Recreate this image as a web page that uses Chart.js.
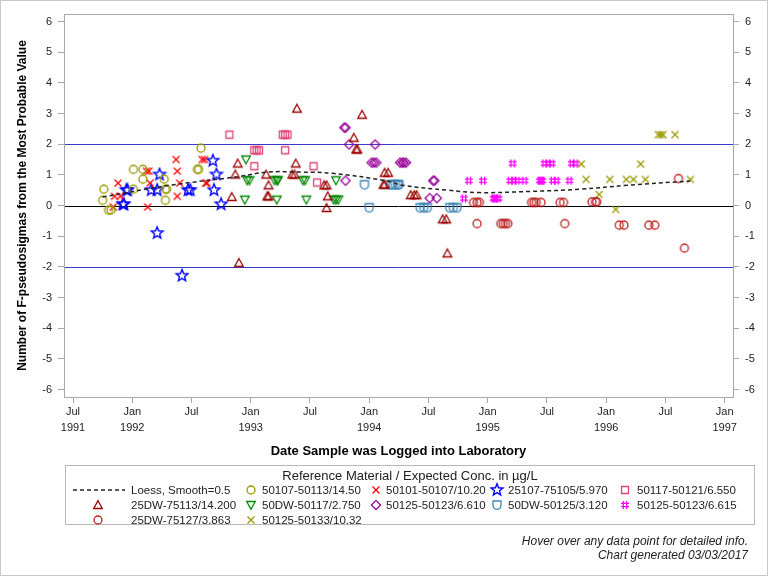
<!DOCTYPE html>
<html>
<head>
<meta charset="utf-8">
<title>Reference material control chart</title>
<script src="https://cdn.jsdelivr.net/npm/chart.js@4.4.1/dist/chart.umd.min.js"></script>
<style>
  html, body { margin: 0; padding: 0; background: #fff; }
  body { width: 768px; height: 576px; position: relative; overflow: hidden; font-family: "Liberation Sans", Arial, sans-serif; }
  #chart { position: absolute; left: 0; top: 0; }
  #frame { position: absolute; left: 0; top: 0; width: 766px; height: 574px; border: 1px solid #c8c8c8; pointer-events: none; }
  #legend { position: absolute; left: 65px; top: 465px; width: 690px; height: 60px; border: 1px solid #b8b8b8; box-sizing: border-box; }
  #legend .ttl { position: absolute; left: 0; right: 0; top: 2px; text-align: center; font-size: 13px; color: #222; }
  .item { position: absolute; font-size: 11.5px; color: #222; white-space: nowrap; line-height: 14px; }
  .sym { position: absolute; }
  .foot { position: absolute; right: 20px; font-size: 12px; font-style: italic; color: #222; }
</style>
</head>
<body>
<canvas id="chart" width="768" height="576"></canvas>
<div id="legend"><div class="ttl">Reference Material / Expected Conc. in µg/L</div></div>
<div class="foot" style="top:534px">Hover over any data point for detailed info.</div>
<div class="foot" style="top:548px">Chart generated 03/03/2017</div>
<div id="frame"></div>
<script>
// Axis ticks (x in decimal years)
const xTickValues = [1991.5, 1992, 1992.5, 1993, 1993.5, 1994, 1994.5, 1995, 1995.5, 1996, 1996.5, 1997];
const xTickLabels = [['Jul','1991'], ['Jan','1992'], 'Jul', ['Jan','1993'], 'Jul', ['Jan','1994'], 'Jul', ['Jan','1995'], 'Jul', ['Jan','1996'], 'Jul', ['Jan','1997']];
const yTickValues = [-6, -5, -4, -3, -2, -1, 0, 1, 2, 3, 4, 5, 6];
const refLevels = [2, 0, -2];

// Data: [date (decimal year), F-pseudosigmas]
const loess = [[1991.75,0.28],[1992.32,0.66],[1992.91,0.95],[1993.14,1.09],[1993.42,1.09],[1993.69,1.05],[1994.15,0.80],[1994.28,0.66],[1994.66,0.50],[1994.93,0.42],[1995.36,0.46],[1995.78,0.53],[1996.18,0.66],[1996.71,0.80]];

const m50107 = [[1991.76,0.53],[1991.75,0.17],[1991.80,-0.15],[1991.82,-0.15],[1992.01,1.18],[1992.09,1.18],[1992.09,0.86],[1992.01,0.53],[1992.27,0.86],[1992.28,0.53],[1992.29,0.53],[1992.28,0.17],[1992.55,1.18],[1992.56,1.18],[1992.58,1.87]];

const m50101 = [[1991.88,0.73],[1991.85,0.30],[1991.90,0.30],[1991.84,-0.05],[1992.12,1.12],[1992.14,1.12],[1992.15,0.73],[1992.13,-0.05],[1992.37,1.50],[1992.38,1.12],[1992.40,0.73],[1992.38,0.30],[1992.59,1.50],[1992.61,1.50],[1992.62,0.73],[1992.63,0.73]];

const m25107 = [[1991.95,0.50],[1991.96,0.50],[1991.92,0.04],[1991.93,0.04],[1992.23,1.01],[1992.16,0.50],[1992.21,0.50],[1992.21,-0.90],[1992.47,0.50],[1992.49,0.50],[1992.68,1.46],[1992.71,1.01],[1992.69,0.50],[1992.75,0.04],[1992.42,-2.29]];

const m50117 = [[1992.82,2.31],[1993.27,2.31],[1993.29,2.31],[1993.31,2.31],[1993.03,1.80],[1993.05,1.80],[1993.07,1.80],[1993.29,1.80],[1993.03,1.28],[1993.53,1.28],[1993.56,0.75]];

const m75113 = [[1992.89,1.37],[1992.87,1.01],[1992.84,0.28],[1992.90,-1.87],[1993.39,3.16],[1993.94,2.96],[1993.87,2.21],[1993.89,1.83],[1993.90,1.83],[1993.38,1.37],[1993.13,1.01],[1993.35,1.01],[1993.37,1.01],[1993.15,0.66],[1993.14,0.30],[1993.15,0.30],[1993.62,0.66],[1993.64,0.66],[1993.65,0.30],[1993.64,-0.08],[1994.13,1.07],[1994.16,1.07],[1994.12,0.68],[1994.13,0.68],[1994.35,0.34],[1994.38,0.34],[1994.40,0.34],[1994.62,-0.45],[1994.65,-0.45],[1994.66,-1.56]];

const mDW50117 = [[1992.96,1.50],[1992.97,0.82],[1992.99,0.82],[1992.95,0.19],[1993.20,0.82],[1993.22,0.82],[1993.23,0.82],[1993.22,0.19],[1993.44,0.82],[1993.46,0.82],[1993.47,0.19],[1993.72,0.82],[1993.70,0.19],[1993.72,0.19],[1993.74,0.19]];

const m50123a = [[1993.79,2.54],[1993.80,2.54],[1993.83,1.99],[1994.05,1.99],[1994.02,1.40],[1994.04,1.40],[1994.06,1.40],[1994.26,1.40],[1994.28,1.40],[1994.29,1.40],[1994.31,1.40],[1993.80,0.81],[1994.54,0.81],[1994.55,0.81],[1994.51,0.24],[1994.57,0.24]];

const mDW50125 = [[1993.96,0.68],[1994.00,-0.07],[1994.18,0.68],[1994.20,0.68],[1994.22,0.68],[1994.24,0.68],[1994.25,0.68],[1994.43,-0.07],[1994.46,-0.07],[1994.49,-0.07],[1994.68,-0.07],[1994.71,-0.07],[1994.74,-0.07]];

const m50123b = [[1995.21,1.37],[1995.48,1.37],[1995.51,1.37],[1995.54,1.37],[1995.71,1.37],[1995.74,1.37],[1994.84,0.81],[1994.96,0.81],[1995.19,0.81],[1995.22,0.81],[1995.25,0.81],[1995.31,0.81],[1995.44,0.81],[1995.45,0.81],[1995.46,0.81],[1995.55,0.81],[1995.58,0.81],[1995.69,0.81],[1994.80,0.23],[1995.05,0.23],[1995.06,0.23],[1995.07,0.23],[1995.09,0.23]];

const m75127 = [[1994.88,0.10],[1994.91,0.10],[1994.93,0.10],[1994.91,-0.59],[1995.11,-0.59],[1995.13,-0.59],[1995.15,-0.59],[1995.17,-0.59],[1995.37,0.10],[1995.39,0.10],[1995.41,0.10],[1995.45,0.10],[1995.61,0.10],[1995.64,0.10],[1995.65,-0.59],[1995.88,0.12],[1995.91,0.12],[1995.92,0.12],[1996.11,-0.64],[1996.15,-0.64],[1996.36,-0.64],[1996.41,-0.64],[1996.61,0.88],[1996.66,-1.39]];

const m50133 = [[1995.79,1.35],[1995.83,0.85],[1995.94,0.36],[1996.03,0.85],[1996.08,-0.13],[1996.17,0.85],[1996.23,0.85],[1996.29,1.35],[1996.33,0.85],[1996.44,2.31],[1996.46,2.31],[1996.48,2.31],[1996.58,2.31],[1996.71,0.85]];

// Series look, in legend order (5 per row)
const series = [
  { label: 'Loess, Smooth=0.5', data: loess, kind: 'loess', color: '#222' },
  { label: '50107-50113/14.50', data: m50107, kind: 'circle', color: '#999900' },
  { label: '50101-50107/10.20', data: m50101, kind: 'x', color: '#ff0000' },
  { label: '25107-75105/5.970', data: m25107, kind: 'star', color: '#0000ff' },
  { label: '50117-50121/6.550', data: m50117, kind: 'square', color: '#dd4477' },
  { label: '25DW-75113/14.200', data: m75113, kind: 'tri', color: '#990000' },
  { label: '50DW-50117/2.750', data: mDW50117, kind: 'invtri', color: '#008800' },
  { label: '50125-50123/6.610', data: m50123a, kind: 'diamond', color: '#990099' },
  { label: '50DW-50125/3.120', data: mDW50125, kind: 'shield', color: '#3d85b5' },
  { label: '50125-50123/6.615', data: m50123b, kind: 'hash', color: '#ff00ff' },
  { label: '25DW-75127/3.863', data: m75127, kind: 'circle', color: '#bb2222' },
  { label: '50125-50133/10.32', data: m50133, kind: 'x', color: '#999900' }
];

const FONT = '"Liberation Sans", Arial, sans-serif';

function glyph(kind, color) {
  const c = document.createElement('canvas');
  c.width = 16; c.height = 16;
  const g = c.getContext('2d');
  g.translate(8, 8);
  g.strokeStyle = color;
  g.lineWidth = 1.3;
  g.beginPath();
  switch (kind) {
    case 'circle': g.arc(0, 0, 4, 0, Math.PI * 2); break;
    case 'tri': g.moveTo(0, -4.3); g.lineTo(4.3, 3.5); g.lineTo(-4.3, 3.5); g.closePath(); break;
    case 'invtri': g.moveTo(0, 4.3); g.lineTo(4.3, -3.5); g.lineTo(-4.3, -3.5); g.closePath(); break;
    case 'x': g.moveTo(-3.5, -3.5); g.lineTo(3.5, 3.5); g.moveTo(3.5, -3.5); g.lineTo(-3.5, 3.5); break;
    case 'square': g.rect(-3.5, -3.5, 7, 7); break;
    case 'diamond': g.moveTo(0, -4.6); g.lineTo(4.6, 0); g.lineTo(0, 4.6); g.lineTo(-4.6, 0); g.closePath(); break;
    case 'star':
      g.lineWidth = 1.4;
      for (let i = 0; i < 10; i++) {
        const r = i % 2 ? 2.7 : 6.2;
        const a = -Math.PI / 2 + i * Math.PI / 5;
        g.lineTo(r * Math.cos(a), r * Math.sin(a));
      }
      g.closePath();
      break;
    case 'shield':
      g.moveTo(-4, -4); g.lineTo(4, -4); g.lineTo(4, 0);
      g.quadraticCurveTo(4, 4, 0, 4.4); g.quadraticCurveTo(-4, 4, -4, 0);
      g.closePath();
      break;
    case 'hash':
      g.moveTo(-1.7, -4); g.lineTo(-1.7, 4); g.moveTo(1.7, -4); g.lineTo(1.7, 4);
      g.moveTo(-4, -1.7); g.lineTo(4, -1.7); g.moveTo(-4, 1.7); g.lineTo(4, 1.7);
      break;
  }
  g.stroke();
  return c;
}

const toXY = (arr) => arr.map(([x, y]) => ({ x, y }));

const datasets = series.map(s => s.kind === 'loess' ? {
  label: s.label, data: toXY(s.data), showLine: true, borderColor: s.color, borderWidth: 1.5,
  borderDash: [4, 3], pointRadius: 0, tension: 0.4, fill: false
} : {
  label: s.label, data: toXY(s.data), showLine: false, pointStyle: glyph(s.kind, s.color),
  pointRadius: 4, borderColor: s.color, backgroundColor: s.color
});

// Reference lines and plot frame
const framePlugin = {
  id: 'framePlugin',
  beforeDatasetsDraw(chart) {
    const { ctx, chartArea: a, scales: { y } } = chart;
    ctx.save();
    refLevels.forEach(v => {
      const py = Math.round(y.getPixelForValue(v)) + 0.5;
      ctx.strokeStyle = v === 0 ? '#000' : '#3a3ac8';
      ctx.lineWidth = 1;
      ctx.beginPath(); ctx.moveTo(a.left, py); ctx.lineTo(a.right, py); ctx.stroke();
    });
    ctx.strokeStyle = '#a8a8a8';
    ctx.strokeRect(Math.round(a.left) + 0.5, Math.round(a.top) + 0.5, Math.round(a.right - a.left), Math.round(a.bottom - a.top));
    ctx.restore();
  }
};

const yTicksFn = (scale) => { scale.ticks = yTickValues.map(v => ({ value: v })); };
const tickFont = { family: FONT, size: 11 };

new Chart(document.getElementById('chart'), {
  type: 'scatter',
  data: { datasets },
  options: {
    responsive: false,
    animation: false,
    events: [],
    layout: { padding: { left: 0, right: 0, top: 14, bottom: 111 } },
    plugins: { legend: { display: false }, tooltip: { enabled: false } },
    scales: {
      x: {
        type: 'linear', min: 1991.424, max: 1997.07,
        afterBuildTicks: (scale) => { scale.ticks = xTickValues.map(v => ({ value: v })); },
        afterFit: (scale) => { scale.height = 68; },
        grid: { drawOnChartArea: false, drawTicks: true, tickLength: 6, color: '#a8a8a8' },
        border: { display: false },
        ticks: { autoSkip: false, maxRotation: 0, padding: 1, color: '#222', font: { family: FONT, size: 11, lineHeight: 1.45 },
          callback: (v, i) => xTickLabels[i] },
        title: { display: true, text: 'Date Sample was Logged into Laboratory', color: '#000',
          font: { family: FONT, size: 13, weight: 'bold' }, padding: { top: 0, bottom: 6 } }
      },
      y: {
        type: 'linear', position: 'left', min: -6.245, max: 6.245,
        afterBuildTicks: yTicksFn,
        afterFit: (scale) => { scale.width = 64; },
        grid: { drawOnChartArea: false, drawTicks: true, tickLength: 6, color: '#a8a8a8' },
        border: { display: false },
        ticks: { padding: 6, color: '#222', font: tickFont },
        title: { display: true, text: 'Number of F-pseudosigmas from the Most Probable Value', color: '#000',
          font: { family: FONT, size: 12, weight: 'bold' }, padding: { top: 15, bottom: 0 } }
      },
      y2: {
        type: 'linear', position: 'right', min: -6.245, max: 6.245,
        afterBuildTicks: yTicksFn,
        afterFit: (scale) => { scale.width = 35; },
        grid: { drawOnChartArea: false, drawTicks: true, tickLength: 6, color: '#a8a8a8' },
        border: { display: false },
        ticks: { padding: 6, color: '#222', font: tickFont }
      }
    }
  },
  plugins: [framePlugin]
});

// Legend (5 columns, row-major)
const colSym = [32, 185, 310, 431, 559];
const colText = [65, 196, 320, 442, 571];
const rowY = [24, 39, 54];
const legend = document.getElementById('legend');
series.forEach((s, i) => {
  const col = i % 5, row = Math.floor(i / 5);
  let sym;
  if (s.kind === 'loess') {
    sym = document.createElement('canvas');
    sym.width = 52; sym.height = 6;
    const g = sym.getContext('2d');
    g.strokeStyle = s.color; g.lineWidth = 1.5; g.setLineDash([4, 3]);
    g.beginPath(); g.moveTo(0, 3); g.lineTo(52, 3); g.stroke();
    sym.style.left = '7px'; sym.style.top = (rowY[row] - 3) + 'px';
  } else {
    sym = glyph(s.kind, s.color);
    sym.style.left = (colSym[col] - 8) + 'px'; sym.style.top = (rowY[row] - 8) + 'px';
  }
  sym.className = 'sym';
  legend.appendChild(sym);
  const t = document.createElement('div');
  t.className = 'item';
  t.textContent = s.label;
  t.style.left = colText[col] + 'px';
  t.style.top = (rowY[row] - 7) + 'px';
  legend.appendChild(t);
});
</script>
</body>
</html>
